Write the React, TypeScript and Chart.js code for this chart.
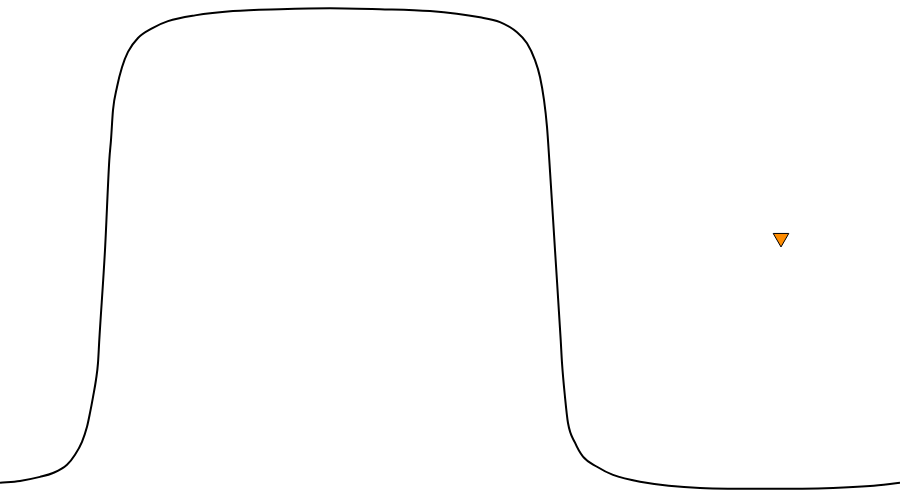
import React, { useEffect, useRef } from 'react';
import { Chart, registerables } from 'chart.js';

Chart.register(...registerables);

// pulse curve (time vs normalised amplitude)
const pulseTime = [
  0, 0.2, 0.4, 0.53, 0.67, 0.75, 0.82, 0.87, 0.9, 0.93, 0.96, 0.98, 0.993,
  1.05, 1.093, 1.11, 1.13, 1.17, 1.22, 1.28, 1.38, 1.52, 1.68, 1.95, 2.33,
  2.8, 3.3, 3.8, 4.3, 4.8, 5.0, 5.17, 5.27, 5.35, 5.4, 5.44, 5.47, 5.493,
  5.55, 5.607, 5.62, 5.65, 5.68, 5.75, 5.83, 5.97, 6.13, 6.4, 7.0, 7.67,
  8.33, 8.7, 9.0,
];
const pulseLevel = [
  0.0125, 0.0166, 0.025, 0.033, 0.05, 0.071, 0.098, 0.129, 0.158, 0.191,
  0.227, 0.262, 0.31, 0.497, 0.684, 0.726, 0.788, 0.836, 0.877, 0.909, 0.938,
  0.958, 0.973, 0.985, 0.994, 0.998, 1.0, 0.998, 0.994, 0.981, 0.971, 0.95,
  0.927, 0.892, 0.857, 0.809, 0.753, 0.684, 0.497, 0.31, 0.262, 0.191, 0.137,
  0.096, 0.067, 0.046, 0.029, 0.015, 0.002, 0.0, 0.002, 0.006, 0.0125,
];

// single marker
const markerTime = [7.81];
const markerLevel = [0.522];

export default function App() {
  const canvasRef = useRef<HTMLCanvasElement>(null);
  const chartRef = useRef<Chart | null>(null);

  useEffect(() => {
    document.body.style.margin = '0';
    if (!canvasRef.current) return;
    const ctx = canvasRef.current.getContext('2d');
    if (!ctx) return;

    chartRef.current = new Chart(ctx, {
      type: 'line',
      data: {
        datasets: [
          {
            label: 'pulse',
            data: pulseTime.map((t, i) => ({ x: t, y: pulseLevel[i] })),
            borderColor: '#000000',
            borderWidth: 2,
            pointRadius: 0,
            fill: false,
            cubicInterpolationMode: 'monotone',
            clip: false,
          },
          {
            label: 'marker',
            data: markerTime.map((t, i) => ({ x: t, y: markerLevel[i] })),
            showLine: false,
            pointStyle: 'triangle',
            rotation: 180,
            pointRadius: 9,
            pointBackgroundColor: '#ff8c00',
            pointBorderColor: '#000000',
            pointBorderWidth: 1,
          },
        ],
      },
      options: {
        animation: false,
        responsive: true,
        maintainAspectRatio: false,
        layout: { padding: 0, autoPadding: false },
        plugins: {
          legend: { display: false },
          tooltip: { enabled: false },
        },
        scales: {
          x: { type: 'linear', min: 0, max: 9, display: false },
          y: { type: 'linear', min: -0.019, max: 1.017, display: false },
        },
      },
    });

    return () => {
      if (chartRef.current) {
        chartRef.current.destroy();
        chartRef.current = null;
      }
    };
  }, []);

  return (
    <div style={{ position: 'relative', width: '900px', height: '498px', background: '#fff' }}>
      <canvas ref={canvasRef}></canvas>
    </div>
  );
}
